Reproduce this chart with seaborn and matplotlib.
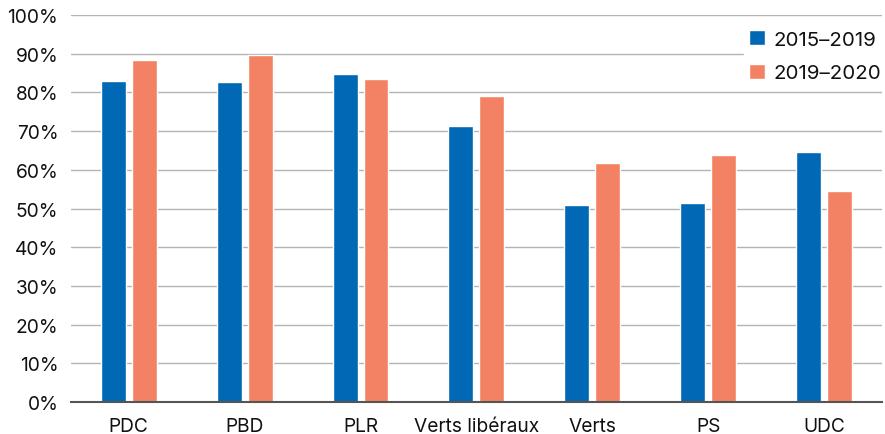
import matplotlib
matplotlib.use("Agg")
import matplotlib.pyplot as plt
import seaborn as sns
import pandas as pd
from matplotlib.ticker import FuncFormatter, MultipleLocator

categories = ["PDC", "PBD", "PLR", "Verts libéraux", "Verts", "PS", "UDC"]
series_names = ["2015–2019", "2019–2020"]
values_2015_2019 = [82.9, 82.7, 84.8, 71.3, 50.9, 51.4, 64.6]
values_2019_2020 = [88.4, 89.7, 83.5, 79.1, 61.8, 63.8, 54.5]
colors = ["#0068b4", "#f28263"]

df = pd.DataFrame({
    "parti": categories * 2,
    "periode": [series_names[0]] * len(categories) + [series_names[1]] * len(categories),
    "valeur": values_2015_2019 + values_2019_2020,
})

sns.set_style("white")
plt.rcParams["font.family"] = ["Inter", "DejaVu Sans"]

fig = plt.figure(figsize=(8.85, 4.35), dpi=100)
ax = fig.add_axes([0.080, 0.0736, 0.9166, 0.8894])

sns.barplot(data=df, x="parti", y="valeur", hue="periode", palette=colors,
            width=0.534, gap=0.194, ax=ax, saturation=1, errorbar=None)

ax.set_ylim(0, 100)
ax.set_xlim(-0.5, len(categories) - 0.5)
ax.yaxis.set_major_locator(MultipleLocator(10))
ax.yaxis.set_major_formatter(FuncFormatter(lambda v, p: f"{int(round(v))}%"))
ax.set_xlabel("")
ax.set_ylabel("")
ax.grid(axis="y", color="#b3b3b3", linewidth=1.0)
ax.set_axisbelow(True)
for s in ["top", "right", "left"]:
    ax.spines[s].set_visible(False)
ax.spines["bottom"].set_color("#555555")
ax.spines["bottom"].set_linewidth(1.5)
ax.tick_params(axis="both", length=0, labelsize=13.8, colors="#111111")
ax.tick_params(axis="y", pad=9)
ax.tick_params(axis="x", pad=11)

leg = ax.legend(loc="upper right", bbox_to_anchor=(1.006, 0.975), frameon=True,
                fontsize=14.8, handlelength=0.78, handleheight=0.78, handletextpad=0.45,
                labelspacing=0.72, borderaxespad=0.0, borderpad=0.25)
leg.get_frame().set_edgecolor("white")
leg.get_frame().set_facecolor("white")
leg.get_frame().set_alpha(1)
for t in leg.get_texts():
    t.set_color("#111111")

fig.savefig("out.png", dpi=100)
